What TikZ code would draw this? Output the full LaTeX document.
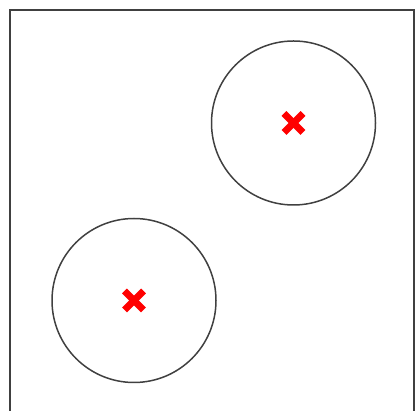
\documentclass[tikz,border=0pt]{standalone}
\begin{document}
\begin{tikzpicture}[x=1pt,y=1pt,frame/.style={draw=black!75,line width=2pt},ring/.style={draw=black!75,line width=1.5pt},crossbar/.style={draw=red,line width=7pt}]
\useasboundingbox (0,0) rectangle (417,411);
\draw[frame] (10,0) -- (10,401) -- (414,401) -- (414,0);
\foreach \cx/\cy in {293.5/288,134/110.5} {
	\coordinate (c) at (\cx,\cy);
	\draw[ring] (c) circle (82);
	\draw[crossbar] ([shift={(-9.5,-9.5)}]c) -- ([shift={(9.5,9.5)}]c);
	\draw[crossbar] ([shift={(-9.5,9.5)}]c) -- ([shift={(9.5,-9.5)}]c);
}
\end{tikzpicture}
\end{document}
